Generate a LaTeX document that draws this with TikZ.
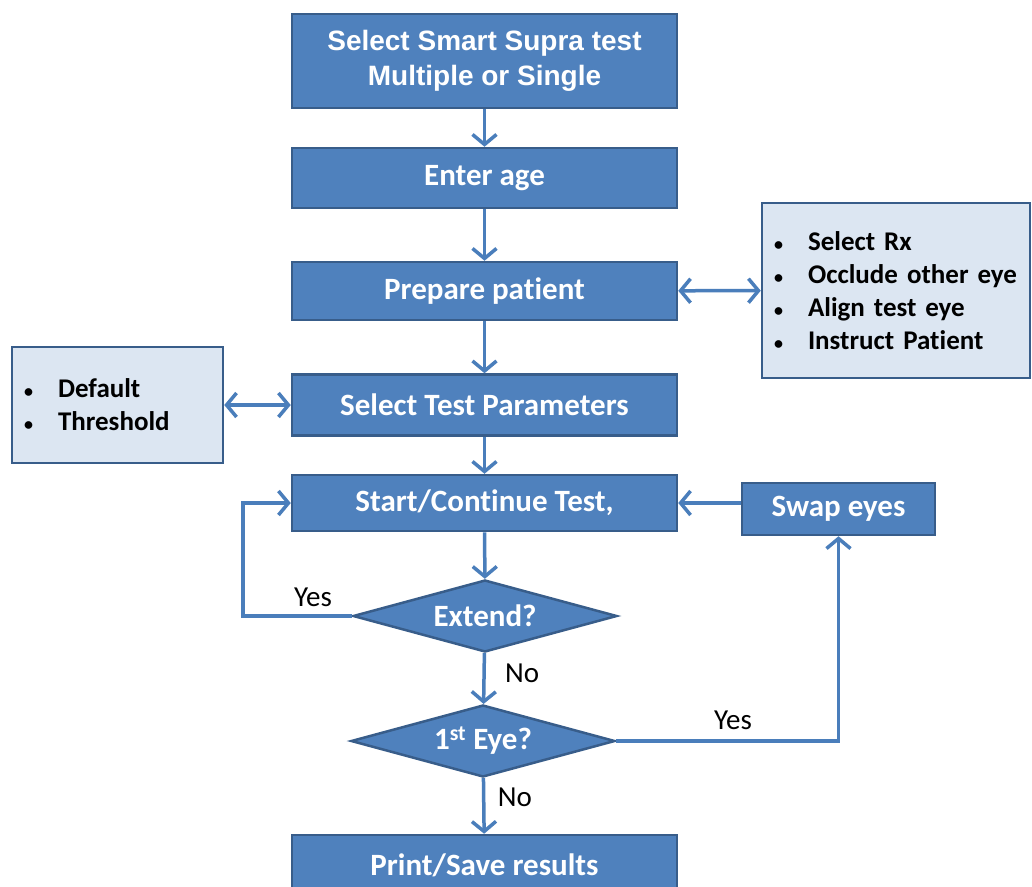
\documentclass[tikz,border=0pt]{standalone}
\usepackage{fontspec}
\setmainfont{Carlito}[Ligatures=NoCommon]
\newfontfamily\arialish{Liberation Sans}
\usepackage{xcolor}
\usepackage{tikz}
\usetikzlibrary{shapes.geometric, arrows.meta, positioning}
\definecolor{boxblue}{HTML}{4F81BD}
\definecolor{boxedge}{HTML}{385D8A}
\definecolor{notefill}{HTML}{DCE6F2}
\definecolor{linkblue}{HTML}{4A7EBB}
\tikzstyle{process} = [rectangle, draw=boxedge, line width=2.5pt, fill=boxblue, text=white, font=\fontsize{31}{35}\selectfont\bfseries, minimum width=385pt, align=center, inner sep=0pt]
\tikzstyle{decision} = [diamond, draw=boxedge, line width=2.5pt, fill=boxblue, text=white, font=\fontsize{31}{35}\selectfont\bfseries, minimum width=264pt, minimum height=72pt, inner sep=0pt, aspect=3.6]
\tikzstyle{note} = [rectangle, draw=boxedge, line width=2.5pt, fill=notefill, font=\fontsize{27}{33}\selectfont\bfseries, align=left, inner xsep=12pt]
\tikzstyle{arrow} = [-{Straight Barb[length=10pt, width=24pt]}, line width=3.5pt, draw=linkblue]
\tikzstyle{twoway} = [{Straight Barb[length=10pt, width=24pt]}-{Straight Barb[length=10pt, width=24pt]}, line width=3.5pt, draw=linkblue]
\tikzstyle{answer} = [font=\fontsize{29}{32}\selectfont]
\newcommand{\bul}{\makebox[34pt][l]{\fontsize{18}{18}\selectfont\textbullet}}

\begin{document}
\begin{tikzpicture}[x=1pt, y=-1pt]
    \useasboundingbox (0,0) rectangle (1032,886);
    \clip (0,0) rectangle (1032,886);
    \fill[white] (0,0) rectangle (1032,886);

    \node[process, minimum height=94pt, font=\fontsize{28}{35}\selectfont\arialish\bfseries] (select) at (484.5,61) {Select Smart Supra test\\Multiple or Single};
    \node[process, minimum height=60pt] (age) at (484.5,178) {Enter age};
    \node[process, minimum height=58pt] (prepare) at (484.5,291) {Prepare patient};
    \node[process, minimum height=61pt] (params) at (484.5,405) {Select Test Parameters};
    \node[process, minimum height=56pt] (start) at (484.5,503) {Start/Continue Test,};
    \node[decision] (extend) at (485,616) {Extend?};
    \node[decision] (first) at (483,741) {1\textsuperscript{st} Eye?};
    \node[process, minimum height=60pt] (print) at (484.5,865) {Print/Save results};
    \node[process, minimum width=193pt, minimum height=52pt] (swap) at (838.5,509) {Swap eyes};

    \node[note, minimum width=268pt, minimum height=175pt, text width=244pt] (patient) at (896,290.5)
        {\bul Select Rx\\\bul Occlude other eye\\\bul Align test eye\\\bul Instruct Patient};
    \node[note, minimum width=211pt, minimum height=116pt, text width=187pt] (values) at (117.5,405)
        {\bul Default\\\bul Threshold};

    \draw[arrow] (select) -- (age);
    \draw[arrow] (age) -- (prepare);
    \draw[arrow] (prepare) -- (params);
    \draw[arrow] (params) -- (start);
    \draw[arrow] (start) -- (extend);
    \draw[arrow] (extend) -- node[answer, pos=0.4, right=16pt] {No} (first);
    \draw[arrow] (first) -- node[answer, pos=0.35, right=9pt] {No} (print);
    \draw[twoway] (prepare) -- (patient);
    \draw[twoway] (values) -- (params);
    \draw[arrow] (swap.west |- start.east) -- (start.east);

    % loop back and eye swap
    \coordinate (back) at (243,616);
    \coordinate (turn) at (838.5,741);
    \draw[arrow] (extend.west) -- (back) -- (back |- start.west) -- (start.west);
    \draw[arrow] (first.east) -- (turn) -- (swap.south);
    \node[answer] (yesback) at (313,597) {Yes};
    \node[answer] (yesswap) at (733,720) {Yes};
\end{tikzpicture}
\end{document}
